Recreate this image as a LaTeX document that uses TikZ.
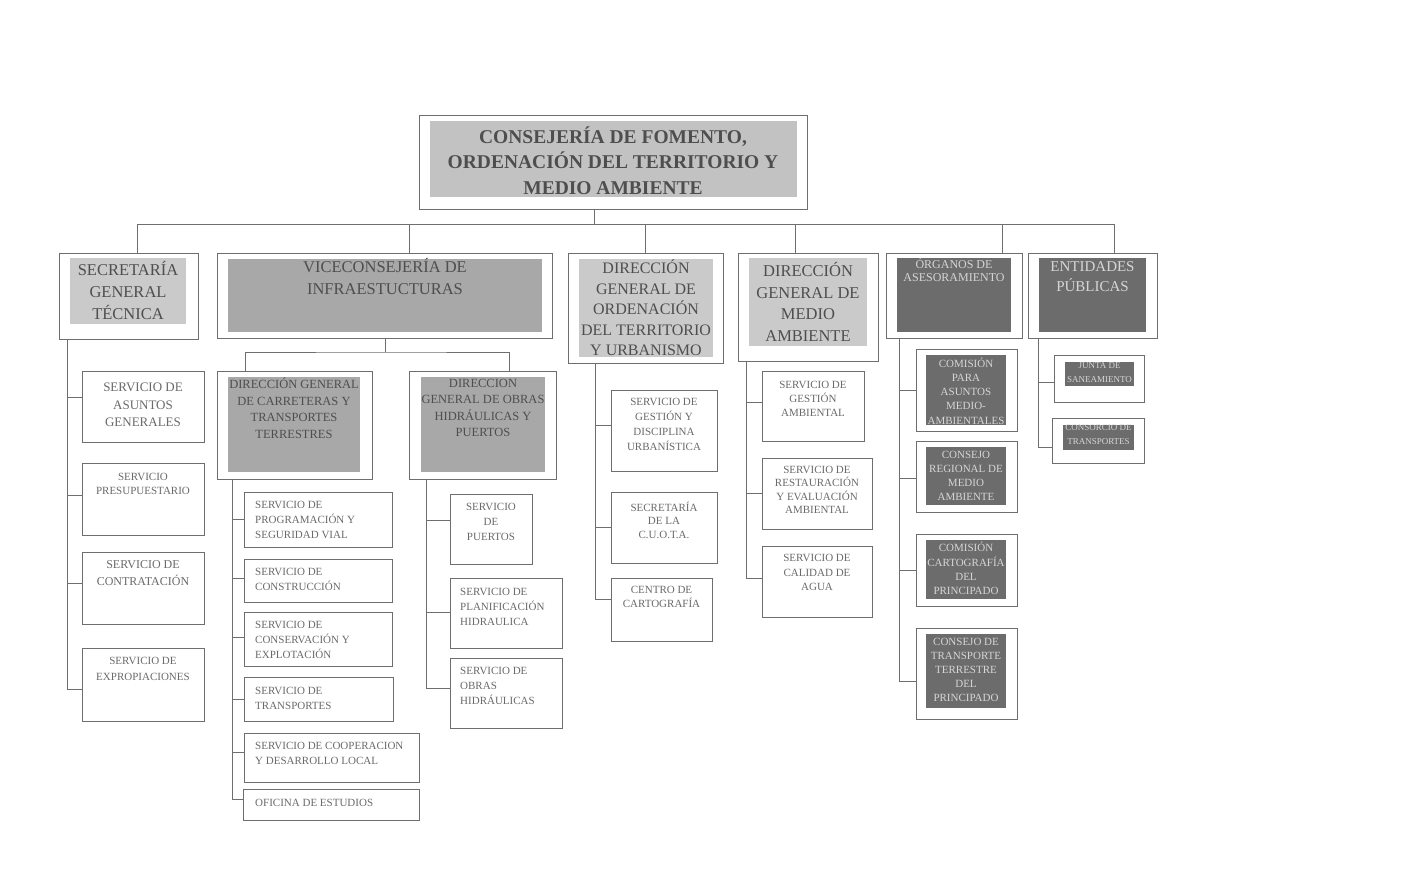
\documentclass[tikz,border=0pt]{standalone}
\usepackage{fontspec}
\setmainfont{Liberation Serif}
\definecolor{lc}{HTML}{6E6E6E}
\definecolor{g1}{HTML}{C2C2C2}
\definecolor{g2}{HTML}{CACACA}
\definecolor{g3}{HTML}{A8A8A8}
\definecolor{g4}{HTML}{6C6C6C}
\definecolor{tc}{HTML}{4E4E4E}
\definecolor{sc}{HTML}{6A6A6A}
\definecolor{wc}{HTML}{D6D6D6}
\newcommand\mkbox[6]{\node[#6, minimum width={(#4-#2)*1pt}, minimum height={(#5-#3)*1pt}] (#1) at ({(#2+#4)/2},{(#3+#5)/2}) {};}
\newcommand\fs[2]{\fontsize{#1}{#2}\selectfont}
\tikzset{
  ln/.style={draw=lc, line width=0.8pt},
  obox/.style={draw=lc, line width=0.8pt, fill=white, inner sep=0pt, outer sep=0pt},
  gbox/.style={fill=#1, inner sep=0pt, outer sep=0pt},
  gtxt/.style={text=tc, align=center, inner sep=0pt},
  stxt/.style={text=sc, align=center, inner sep=0pt},
  ltxt/.style={text=sc, align=left, inner sep=0pt, anchor=west},
  wtxt/.style={text=wc, align=center, inner sep=0pt},
}
\begin{document}
\begin{tikzpicture}[x=1pt,y=-1pt]
\fill[white] (0,0) rectangle (1426,894);
\useasboundingbox (0,0) rectangle (1426,894);
% ---------- level 0
\mkbox{top}{419}{115}{807}{209}{obox}
\mkbox{topi}{430}{121}{797}{197}{gbox=g1}
\node[gtxt, font=\bfseries\fs{19.5}{25.5}] (topt) at (613,160.5) {CONSEJERÍA DE FOMENTO,\\ORDENACIÓN DEL TERRITORIO Y\\MEDIO AMBIENTE};
% ---------- level 1
\mkbox{sgt}{59}{253}{198}{339}{obox}
\mkbox{sgti}{70}{258}{186}{324}{gbox=g2}
\node[gtxt, font=\fs{16.5}{22}] (sgtt) at (128,290) {SECRETARÍA\\GENERAL\\TÉCNICA};
\mkbox{vice}{217}{253}{552}{338}{obox}
\mkbox{vicei}{228}{259}{542}{332}{gbox=g3}
\node[gtxt, font=\fs{16.5}{22}] (vicet) at (385,276) {VICECONSEJERÍA DE\\INFRAESTUCTURAS};
\mkbox{dgor}{568}{253}{723}{363}{obox}
\mkbox{dgori}{579}{259}{713}{357}{gbox=g2}
\node[gtxt, font=\fs{16}{20.5}] (dgort) at (646,308) {DIRECCIÓN\\GENERAL DE\\ORDENACIÓN\\DEL TERRITORIO\\Y URBANISMO};
\mkbox{dgma}{738}{253}{878}{361}{obox}
\mkbox{dgmai}{749}{258}{867}{346}{gbox=g2}
\node[gtxt, font=\fs{16.5}{21.7}] (dgmat) at (808,302) {DIRECCIÓN\\GENERAL DE\\MEDIO\\AMBIENTE};
\mkbox{org}{886}{253}{1022}{338}{obox}
\mkbox{orgi}{897}{258}{1011}{332}{gbox=g4}
\node[wtxt, font=\fs{12}{13.5}] (orgt) at (954,270) {ÓRGANOS DE\\ASESORAMIENTO};
\mkbox{ent}{1028}{253}{1157}{338}{obox}
\mkbox{enti}{1039}{258}{1146}{332}{gbox=g4}
\node[wtxt, font=\fs{15}{20}] (entt) at (1092.5,277) {ENTIDADES\\PÚBLICAS};
% bus
\coordinate (busL) at (137,224);
\coordinate (busR) at (1114,224);
\draw[ln] (busL) -- (busR);
\draw[ln] ([xshift=-19pt]top.south) -- ([xshift=-19pt]top.south |- busL);
\draw[ln] ([xshift=8.5pt]sgt.north) -- ([xshift=8.5pt]sgt.north |- busL);
\draw[ln] ([xshift=24.5pt]vice.north) -- ([xshift=24.5pt]vice.north |- busL);
\draw[ln] (dgor.north) -- (dgor.north |- busL);
\draw[ln] ([xshift=-13pt]dgma.north) -- ([xshift=-13pt]dgma.north |- busL);
\draw[ln] ([xshift=48pt]org.north) -- ([xshift=48pt]org.north |- busL);
\draw[ln] ([xshift=21.5pt]ent.north) -- ([xshift=21.5pt]ent.north |- busL);
% ---------- level 2 under Viceconsejería
\mkbox{dgc}{217}{371}{372}{479}{obox}
\mkbox{dgci}{228}{377}{360}{472}{gbox=g3}
\node[gtxt, font=\fs{12.5}{16.5}] (dgct) at (294,408) {DIRECCIÓN GENERAL\\DE CARRETERAS Y\\TRANSPORTES\\TERRESTRES};
\mkbox{dgo}{409}{371}{556}{479}{obox}
\mkbox{dgoi}{421}{377}{545}{472}{gbox=g3}
\node[gtxt, font=\fs{12.5}{16.5}] (dgot) at (483,408) {DIRECCION\\GENERAL DE OBRAS\\HIDRÁULICAS Y\\PUERTOS};
\coordinate (vbus) at (385,352);
\draw[ln] ([xshift=0.5pt]vice.south) -- (vbus);
\draw[ln] ([xshift=-49.5pt]dgc.north) |- (vbus) -| ([xshift=26.5pt]dgo.north);
% ---------- Secretaría General Técnica services
\mkbox{asg}{82}{371}{204}{442}{obox}
\node[stxt, font=\fs{13}{17.5}] (asgt) at (143,405) {SERVICIO DE\\ASUNTOS\\GENERALES};
\mkbox{pre}{82}{463}{204}{535}{obox}
\node[stxt, font=\fs{11}{14.5}] (pret) at (143,484) {SERVICIO\\PRESUPUESTARIO};
\mkbox{con}{82}{552}{204}{624}{obox}
\node[stxt, font=\fs{12}{17}] (cont) at (143,573.5) {SERVICIO DE\\CONTRATACIÓN};
\mkbox{exp}{82}{648}{204}{721}{obox}
\node[stxt, font=\fs{11}{16}] (expt) at (143,669) {SERVICIO DE\\EXPROPIACIONES};
\coordinate (sgsp) at ([xshift=8pt]sgt.south west);
\draw[ln] (sgsp) |- ([yshift=9.5pt]asg.west);
\draw[ln] (sgsp) |- ([yshift=4pt]pre.west);
\draw[ln] (sgsp) |- ([yshift=5pt]con.west);
\draw[ln] (sgsp) |- ([yshift=-4.5pt]exp.west);
% ---------- Carreteras services
\mkbox{prog}{244}{492}{392}{547}{obox}
\node[ltxt, font=\fs{11}{15}] (progt) at (255,520) {SERVICIO DE\\PROGRAMACIÓN Y\\SEGURIDAD VIAL};
\mkbox{cons}{244}{559}{392}{602}{obox}
\node[ltxt, font=\fs{11}{15}] (const) at (255,579.5) {SERVICIO DE\\CONSTRUCCIÓN};
\mkbox{cexp}{244}{612}{392}{666}{obox}
\node[ltxt, font=\fs{11}{15}] (cexpt) at (255,639.5) {SERVICIO DE\\CONSERVACIÓN Y\\EXPLOTACIÓN};
\mkbox{trans}{244}{677}{393}{721}{obox}
\node[ltxt, font=\fs{11}{15}] (transt) at (255,698) {SERVICIO DE\\TRANSPORTES};
\mkbox{coop}{244}{733}{419}{782}{obox}
\node[ltxt, font=\fs{11}{15}] (coopt) at (255,753.5) {SERVICIO DE COOPERACION\\Y DESARROLLO LOCAL};
\mkbox{ofi}{243}{789}{419}{820}{obox}
\node[ltxt, font=\fs{11}{15}] (ofit) at (255,803) {OFICINA DE ESTUDIOS};
\coordinate (dcsp) at ([xshift=15pt]dgc.south west);
\draw[ln] (dcsp) |- (prog.west);
\draw[ln] (dcsp) |- ([yshift=2.5pt]cons.west);
\draw[ln] (dcsp) |- ([yshift=2pt]cexp.west);
\draw[ln] (dcsp) |- (trans.west);
\draw[ln] (dcsp) |- ([yshift=5.5pt]coop.west);
\draw[ln] (dcsp) |- ([yshift=5.5pt]ofi.west);
% ---------- Obras services
\mkbox{pue}{450}{494}{532}{564}{obox}
\node[stxt, font=\fs{11}{15}] (puet) at (491,522) {SERVICIO\\DE\\PUERTOS};
\mkbox{plan}{450}{578}{562}{648}{obox}
\node[ltxt, font=\fs{11}{15}] (plant) at (460,607) {SERVICIO DE\\PLANIFICACIÓN\\HIDRAULICA};
\mkbox{ohid}{450}{658}{562}{728}{obox}
\node[ltxt, font=\fs{11}{15}] (ohidt) at (460,686) {SERVICIO DE\\OBRAS\\HIDRÁULICAS};
\coordinate (dosp) at ([xshift=17pt]dgo.south west);
\draw[ln] (dosp) |- ([yshift=9pt]pue.west);
\draw[ln] (dosp) |- ([yshift=1pt]plan.west);
\draw[ln] (dosp) |- ([yshift=5pt]ohid.west);
% ---------- Ordenación services
\mkbox{gdu}{611}{390}{717}{471}{obox}
\node[stxt, font=\fs{11}{15}] (gdut) at (664,424.5) {SERVICIO DE\\GESTIÓN Y\\DISCIPLINA\\URBANÍSTICA};
\mkbox{cuota}{611}{492}{717}{563}{obox}
\node[stxt, font=\fs{11}{13.5}] (cuotat) at (664,520) {SECRETARÍA\\DE LA\\C.U.O.T.A.};
\mkbox{cart}{611}{578}{712}{641}{obox}
\node[stxt, font=\fs{11}{14}] (cartt) at (661.5,597) {CENTRO DE\\CARTOGRAFÍA};
\coordinate (orsp) at ([xshift=27pt]dgor.south west);
\draw[ln] (orsp) |- ([yshift=5.5pt]gdu.west);
\draw[ln] (orsp) |- (cuota.west);
\draw[ln] (orsp) |- ([yshift=10.5pt]cart.west);
% ---------- Medio Ambiente services
\mkbox{gamb}{762}{371}{864}{441}{obox}
\node[stxt, font=\fs{11}{14}] (gambt) at (813,398.5) {SERVICIO DE\\GESTIÓN\\AMBIENTAL};
\mkbox{rest}{762}{458}{872}{529}{obox}
\node[stxt, font=\fs{11}{13.5}] (restt) at (817,490) {SERVICIO DE\\RESTAURACIÓN\\Y EVALUACIÓN\\AMBIENTAL};
\mkbox{cal}{762}{546}{872}{617}{obox}
\node[stxt, font=\fs{11}{14.5}] (calt) at (817,572.5) {SERVICIO DE\\CALIDAD DE\\AGUA};
\coordinate (masp) at ([xshift=8pt]dgma.south west);
\draw[ln] (masp) |- ([yshift=4pt]gamb.west);
\draw[ln] (masp) |- (rest.west);
\draw[ln] (masp) |- ([yshift=3.5pt]cal.west);
% ---------- Órganos de asesoramiento
\mkbox{cpa}{916}{349}{1017}{431}{obox}
\mkbox{cpai}{926}{355}{1006}{425}{gbox=g4}
\node[wtxt, font=\fs{11}{14.2}] (cpat) at (966,391) {COMISIÓN\\PARA\\ASUNTOS\\MEDIO-\\AMBIENTALES};
\mkbox{crm}{916}{441}{1017}{512}{obox}
\mkbox{crmi}{926}{447}{1006}{505}{gbox=g4}
\node[wtxt, font=\fs{11}{14}] (crmt) at (966,476) {CONSEJO\\REGIONAL DE\\MEDIO\\AMBIENTE};
\mkbox{ccp}{916}{534}{1017}{606}{obox}
\mkbox{ccpi}{926}{540}{1006}{599}{gbox=g4}
\node[wtxt, font=\fs{11}{14.3}] (ccpt) at (966,568.5) {COMISIÓN\\CARTOGRAFÍA\\DEL\\PRINCIPADO};
\mkbox{ctt}{916}{628}{1017}{719}{obox}
\mkbox{ctti}{926}{634}{1006}{708}{gbox=g4}
\node[wtxt, font=\fs{11}{14}] (cttt) at (966,670) {CONSEJO DE\\TRANSPORTE\\TERRESTRE\\DEL\\PRINCIPADO};
\coordinate (ogsp) at ([xshift=13pt]org.south west);
\draw[ln] (ogsp) |- (cpa.west);
\draw[ln] (ogsp) |- ([yshift=-1.5pt]crm.west);
\draw[ln] (ogsp) |- (ccp.west);
\draw[ln] (ogsp) |- ([yshift=-7.5pt]ctt.west);
% ---------- Entidades públicas
\mkbox{jsa}{1054}{355}{1144}{402}{obox}
\mkbox{jsai}{1065}{362}{1134}{386}{gbox=g4}
\node[wtxt, font=\fs{9}{14}] (jsat) at (1099.5,372.5) {JUNTA DE\\SANEAMIENTO};
\mkbox{cdt}{1052}{418}{1144}{463}{obox}
\mkbox{cdti}{1063}{425}{1134}{450}{gbox=g4}
\node[wtxt, font=\fs{9}{14}] (cdtt) at (1098.5,435) {CONSORCIO DE\\TRANSPORTES};
\coordinate (ensp) at ([xshift=10pt]ent.south west);
\draw[ln] (ensp) |- ([yshift=-3.5pt]jsa.west);
\draw[ln] (ensp) |- ([yshift=-6.5pt]cdt.west);
\end{tikzpicture}
\end{document}
